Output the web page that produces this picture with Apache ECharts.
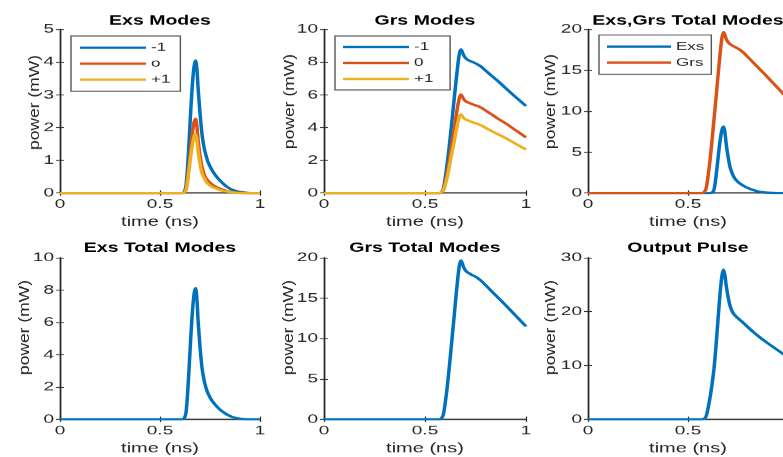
<!DOCTYPE html>
<html>
<head>
<meta charset="utf-8">
<script src="https://cdn.jsdelivr.net/npm/echarts@6/dist/echarts.min.js"></script>
<style>
html,body{margin:0;padding:0;background:#fff;overflow:hidden;width:783px;height:457px;}
#c{width:783px;height:686px;transform:scaleY(0.666181);transform-origin:0 0;}
</style>
</head>
<body>
<div id="c"></div>
<script>
// time samples (ns)
const T = [0, 0.5, 0.57, 0.58, 0.59, 0.6, 0.61, 0.62, 0.63, 0.64, 0.65, 0.66, 0.67, 0.678, 0.685, 0.69, 0.70, 0.71, 0.72, 0.73, 0.74, 0.76, 0.78, 0.80, 0.83, 0.86, 0.9, 0.95, 1.0];
// Exs modes (mW)
const exsMinus1 = [0,0,0,0,0,0,0,0.02,0.22,1.0,2.1,3.15,3.85,4.05,3.75,3.25,2.45,1.8,1.4,1.15,0.95,0.7,0.52,0.38,0.21,0.1,0.03,0,0];
const exsZero   = [0,0,0,0,0,0,0,0.01,0.1,0.55,1.15,1.75,2.15,2.27,2.0,1.65,1.15,0.8,0.58,0.45,0.37,0.26,0.19,0.13,0.07,0.03,0.01,0,0];
const exsPlus1  = [0,0,0,0,0,0,0,0.01,0.08,0.45,0.95,1.4,1.72,1.8,1.6,1.3,0.9,0.6,0.47,0.35,0.28,0.19,0.14,0.09,0.05,0.02,0,0,0];
// Grs modes (mW)
const grsMinus1 = [0,0,0,0.04,0.22,0.9,1.8,2.85,4.0,5.2,6.4,7.55,8.5,8.78,8.62,8.45,8.25,8.15,8.08,8.03,7.98,7.86,7.7,7.48,7.16,6.85,6.4,5.85,5.32];
const grsZero   = [0,0,0,0.03,0.15,0.6,1.22,1.95,2.75,3.55,4.37,5.17,5.8,6.02,5.9,5.77,5.62,5.55,5.5,5.45,5.4,5.32,5.2,5.04,4.8,4.55,4.25,3.82,3.4];
const grsPlus1  = [0,0,0,0.03,0.13,0.5,0.98,1.6,2.25,2.85,3.5,4.15,4.65,4.8,4.7,4.6,4.5,4.45,4.4,4.35,4.3,4.22,4.12,3.98,3.78,3.6,3.35,3.0,2.66];
// totals (mW)
const exsTotal  = [0,0,0,0,0,0,0,0.04,0.4,2.0,4.2,6.3,7.72,8.12,7.35,6.2,4.5,3.2,2.45,1.95,1.6,1.15,0.85,0.6,0.33,0.15,0.04,0,0];
const grsTotal  = [0,0,0,0.1,0.5,2.0,4.0,6.4,9.0,11.6,14.3,16.9,19.0,19.65,19.3,18.9,18.45,18.2,18.05,17.9,17.78,17.5,17.1,16.6,15.85,15.1,14.1,12.8,11.5];
const outputPulse = [0,0,0,0.1,0.5,2.0,4.0,6.44,9.4,13.6,18.5,23.2,26.7,27.77,26.65,25.1,22.8,21.1,20.1,19.5,19.1,18.45,17.8,17.1,16.1,15.2,14.1,12.8,11.5];

const titles = ['Exs Modes','Grs Modes','Exs,Grs Total Modes','Exs Total Modes','Grs Total Modes','Output Pulse'];
const modeNamesExs = ['-1','o','+1'];
const modeNamesGrs = ['-1','0','+1'];
const totalNames = ['Exs','Grs'];
const yMax = [5,10,20,10,20,30];
const yStep = [1,2,5,2,5,10];
const xMin = 0, xMax = 1, xStep = 0.5;
const xLabel = 'time (ns)';
const yLabel = 'power (mW)';

const C1 = '#0072BD', C2 = '#D95319', C3 = '#EDB120';
const AX = '#262626';
const FONT = 'Liberation Sans, Arial, Helvetica, sans-serif';

const S = 686/457;
const gridBox = [
  [60, 260, 29.3, 163.7], [324, 526, 29.3, 163.7], [588, 788, 29.3, 163.7],
  [60, 260, 257.7, 161.6], [324, 526, 257.7, 161.6], [588, 788, 257.7, 161.6]
];
const grids = gridBox.map(b=>({left:b[0], width:b[1]-b[0], top:b[2]*S, height:b[3]*S,
  outerBoundsMode:'none', containLabel:false}));
// y-label anchors (centre x, lower end y) in picture pixels
const yLabelX = [35.5, 290, 551.5, 25, 289, 551.5];
const yLabelY = [150, 149, 149, 375, 375, 375];
const yLabelStretch = 1.9;

const pts = arr => T.map((t,i)=>[t, arr[i]]);

const xAxes = [], yAxes = [];
grids.forEach((g,i)=>{
  const axLine = {show:true, lineStyle:{color:AX, width:1.4}};
  const tick = {show:true, inside:true, length:4, lineStyle:{color:AX, width:1.2}};
  xAxes.push({type:'value', gridIndex:i, position:'bottom', min:xMin, max:xMax, interval:xStep,
    axisLine:axLine, axisTick:tick, splitLine:{show:false},
    axisLabel:{color:AX, fontSize:19, fontFamily:FONT, margin:8, formatter:v=>String(v)},
    name:xLabel, nameLocation:'middle', nameGap:34,
    nameTextStyle:{color:AX, fontSize:20, fontFamily:FONT}});
  xAxes.push({type:'value', gridIndex:i, position:'top', min:xMin, max:xMax, interval:xStep,
    axisLine:axLine, axisTick:tick, splitLine:{show:false}, axisLabel:{show:false}});
  yAxes.push({type:'value', gridIndex:i, position:'left', min:0, max:yMax[i], interval:yStep[i],
    axisLine:axLine, axisTick:tick, splitLine:{show:false},
    axisLabel:{color:AX, fontSize:19, fontFamily:FONT, margin:6}});
  yAxes.push({type:'value', gridIndex:i, position:'right', min:0, max:yMax[i], interval:yStep[i],
    axisLine:axLine, axisTick:tick, splitLine:{show:false}, axisLabel:{show:false}});
});

function line(name, arr, color, i){
  return {type:'line', name:name, xAxisIndex:2*i, yAxisIndex:2*i, data:pts(arr),
    symbol:'none', smooth:0.3, lineStyle:{color:color, width:3.5}, itemStyle:{color:color},
    clip:true, animation:false};
}

const series = [
  line(modeNamesExs[0], exsMinus1, C1, 0),
  line(modeNamesExs[1], exsZero, C2, 0),
  line(modeNamesExs[2], exsPlus1, C3, 0),
  line(modeNamesGrs[0]+' ', grsMinus1, C1, 1),
  line(modeNamesGrs[1]+' ', grsZero, C2, 1),
  line(modeNamesGrs[2]+' ', grsPlus1, C3, 1),
  line(totalNames[0], exsTotal, C1, 2),
  line(totalNames[1], grsTotal, C2, 2),
  line('Exs total', exsTotal, C1, 3),
  line('Grs total', grsTotal, C1, 4),
  line('Output', outputPulse, C1, 5)
];

const legendBase = {orient:'vertical', icon:'rect', itemHeight:3.5, itemGap:7, selectedMode:false,
  backgroundColor:'#fff', borderColor:'#555', borderWidth:1.4,
  textStyle:{color:AX, fontSize:17, fontFamily:FONT}};
const legends = [
  Object.assign({}, legendBase, {left:71, top:36*S, itemWidth:66, itemTextGap:3, padding:[9,10,9,9],
    data:modeNamesExs}),
  Object.assign({}, legendBase, {left:335, top:36*S, itemWidth:66, itemTextGap:3, padding:[8,12,8,8],
    data:modeNamesGrs.map(n=>n+' ')}),
  Object.assign({}, legendBase, {left:599, top:35*S, itemWidth:64, itemTextGap:8, padding:[9,7,9,8],
    data:totalNames})
];

const titleCenters = [160, 425, 688, 160, 425, 688];
const titleTops = [22, 22, 22, 363, 363, 363];
const titleOpts = titles.map((t,i)=>({text:t, left:titleCenters[i], top:titleTops[i], textAlign:'center', padding:0,
  textStyle:{color:'#000', fontSize:19.5, fontWeight:'bold', fontFamily:FONT}}));

const chart = echarts.init(document.getElementById('c'), null, {renderer:'canvas'});
chart.setOption({
  animation:false,
  backgroundColor:'#fff',
  title:titleOpts,
  grid:grids,
  xAxis:xAxes,
  yAxis:yAxes,
  legend:legends,
  series:series
});

// rotated y-axis labels, stretched along their reading direction
const zr = chart.getZr();
yLabelX.forEach((x,i)=>{
  const t = new echarts.graphic.Text({
    x: x, y: yLabelY[i]*S, rotation: Math.PI/2, scaleX: yLabelStretch, scaleY: 1, silent: true, z: 10,
    style: {text: yLabel, fill: AX, fontSize: 13.8, fontFamily: FONT, align: 'left', verticalAlign: 'middle'}
  });
  zr.add(t);
});
</script>
</body>
</html>
